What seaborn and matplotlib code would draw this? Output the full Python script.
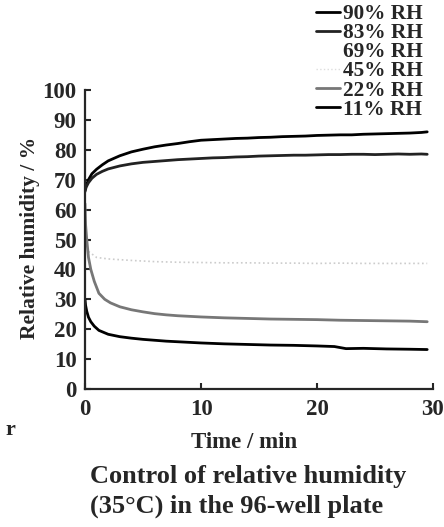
import matplotlib
matplotlib.use("Agg")
import matplotlib.pyplot as plt
import pandas as pd
import seaborn as sns
from matplotlib.lines import Line2D

# values (time in min, relative humidity in %)
t_high = [0, 0.1, 0.3, 0.6, 1.0, 1.5, 2, 3, 4, 5, 6, 7, 8, 9, 10, 11, 12, 13, 14, 15,
          16, 17, 18, 19, 20, 21, 22, 23, 24, 25, 26, 27, 28, 29, 29.5]
rh_90 = [66.5, 68, 70, 72, 73.5, 75, 76.3, 78, 79.3, 80.2, 81, 81.6, 82.1, 82.7, 83.2,
         83.4, 83.6, 83.8, 83.9, 84.1, 84.2, 84.4, 84.5, 84.6, 84.8, 84.9, 85.0, 85.0,
         85.2, 85.3, 85.4, 85.5, 85.6, 85.8, 86.0]
rh_83 = [66, 67.5, 69, 70.5, 71.8, 72.8, 73.6, 74.6, 75.3, 75.8, 76.1, 76.4, 76.7, 76.9,
         77.1, 77.3, 77.4, 77.6, 77.7, 77.9, 78.0, 78.1, 78.2, 78.2, 78.3, 78.4, 78.4,
         78.5, 78.5, 78.4, 78.5, 78.6, 78.5, 78.6, 78.5]

t_45 = [0.3, 1, 2, 4, 6, 8, 10, 12, 14, 16, 18, 20, 22, 24, 26, 28, 29.5]
rh_45 = [46, 44, 43.5, 43, 42.6, 42.4, 42.3, 42.2, 42.2, 42.1, 42.1, 42.0, 42.1, 42.0,
         42.0, 42.0, 42.0]

t_22 = [0, 0.05, 0.15, 0.3, 0.5, 0.8, 1.2, 1.7, 2.2, 3, 4, 5, 6, 7, 8, 9, 10, 12, 14,
        16, 18, 20, 22, 24, 26, 28, 29.5]
rh_22 = [62, 55, 50, 44, 40, 36, 32, 30, 28.8, 27.5, 26.5, 25.8, 25.2, 24.8, 24.5, 24.3,
         24.1, 23.8, 23.6, 23.4, 23.3, 23.2, 23.0, 22.9, 22.8, 22.7, 22.5]

t_11 = [0, 0.05, 0.15, 0.3, 0.5, 0.8, 1.2, 2, 3, 4, 5, 6, 7, 8, 9, 10, 12, 14, 16, 18,
        20, 21.5, 22.5, 24, 26, 28, 29.5]
rh_11 = [30, 28, 26, 24, 22.5, 21, 19.6, 18.3, 17.5, 17, 16.6, 16.3, 16.0, 15.8, 15.6,
         15.4, 15.1, 14.9, 14.7, 14.6, 14.4, 14.2, 13.5, 13.6, 13.4, 13.3, 13.2]

labels = ["90% RH", "83% RH", "69% RH", "45% RH", "22% RH", "11% RH"]
y_ticks = list(range(0, 101, 10))
x_ticks = [0, 10, 20, 30]

sns.set_style("ticks")
plt.rcParams["font.family"] = ["Liberation Serif", "DejaVu Serif"]
plt.rcParams["font.weight"] = "bold"

fig = plt.figure(figsize=(4.44, 5.27), dpi=100)
ax = fig.add_axes([85 / 444, 1 - 389 / 527, 348 / 444, 299 / 527])

sns.lineplot(x=t_high, y=rh_90, ax=ax, color="black", lw=2)
sns.lineplot(x=t_high, y=rh_83, ax=ax, color="#222222", lw=2)
sns.lineplot(x=t_45, y=rh_45, ax=ax, color="#cccccc", lw=1.2, ls=":")
sns.lineplot(x=t_22, y=rh_22, ax=ax, color="#777777", lw=2)
sns.lineplot(x=t_11, y=rh_11, ax=ax, color="black", lw=2)

ax.set_xlim(0, 30)
ax.set_ylim(0, 100)
ax.set_xticks(x_ticks)
ax.set_yticks(y_ticks)
ax.tick_params(direction="in", length=4, width=1.5, labelsize=16.5)
ax.tick_params(axis="y", pad=6)
ax.tick_params(axis="x", pad=7)
for lab in ax.get_xticklabels() + ax.get_yticklabels():
    lab.set_fontweight("bold")
for side in ["top", "right"]:
    ax.spines[side].set_visible(False)
for side in ["left", "bottom"]:
    ax.spines[side].set_linewidth(1.6)

ax.set_xlabel("")
ax.set_ylabel("")
fig.text(30 / 444, 1 - 238 / 527, "Relative humidity / %", rotation=90,
         ha="center", va="center", fontsize=15.5, fontweight="bold")
fig.text(244 / 444, 1 - 443 / 527, "Time / min", ha="center", va="center",
         fontsize=16.5, fontweight="bold")
fig.text(90 / 444, 1 - 476 / 527, "Control of relative humidity", ha="left",
         va="center", fontsize=19, fontweight="bold")
fig.text(90 / 444, 1 - 506 / 527, "(35\u00b0C) in the 96-well plate", ha="left",
         va="center", fontsize=19, fontweight="bold")
fig.text(5 / 444, 1 - 430 / 527, "r", ha="left", va="center", fontsize=16,
         fontweight="bold")

handles = [
    Line2D([], [], color="black", lw=2),
    Line2D([], [], color="#222222", lw=2),
    Line2D([], [], color="white", lw=2),
    Line2D([], [], color="#dddddd", lw=1, ls=":"),
    Line2D([], [], color="#777777", lw=2),
    Line2D([], [], color="black", lw=2),
]
fig.legend(handles, labels, loc="upper right", bbox_to_anchor=(423 / 444, 1 - 4 / 527),
           frameon=False, borderpad=0, borderaxespad=0,
           handlelength=1.15, handletextpad=0.15, labelspacing=-0.04,
           prop={"weight": "bold", "size": 15.3})

fig.savefig("out.png", dpi=100)
